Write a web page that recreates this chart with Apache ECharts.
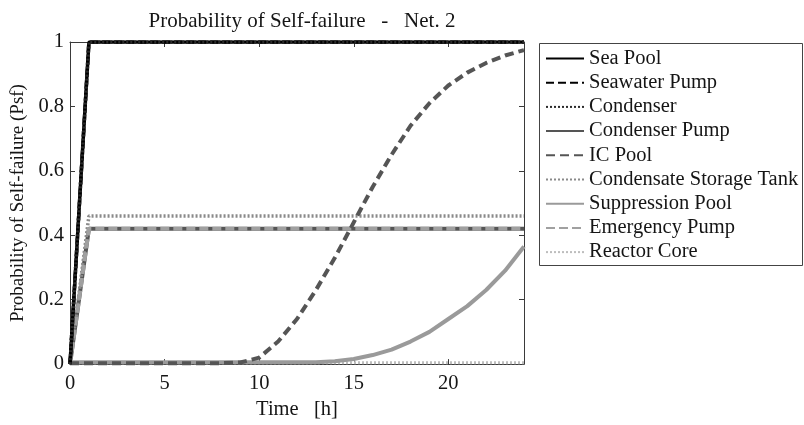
<!DOCTYPE html>
<html>
<head>
<meta charset="utf-8">
<script src="https://cdn.jsdelivr.net/npm/echarts@6/dist/echarts.min.js"></script>
<style>
  html, body { margin: 0; padding: 0; background: #fff; }
  #chart { width: 804px; height: 425px; }
</style>
</head>
<body>
<div id="chart"></div>
<script>
// Hourly time samples [h]
const hours = [0,1,2,3,4,5,6,7,8,9,10,11,12,13,14,15,16,17,18,19,20,21,22,23,24];

// Probability of self-failure per component
const seaPool        = [0,1,1,1,1,1,1,1,1,1,1,1,1,1,1,1,1,1,1,1,1,1,1,1,1];
const seawaterPump   = [0,1,1,1,1,1,1,1,1,1,1,1,1,1,1,1,1,1,1,1,1,1,1,1,1];
const condenser      = [0,1,1,1,1,1,1,1,1,1,1,1,1,1,1,1,1,1,1,1,1,1,1,1,1];
const condenserPump  = [0,0.42,0.42,0.42,0.42,0.42,0.42,0.42,0.42,0.42,0.42,0.42,0.42,0.42,0.42,0.42,0.42,0.42,0.42,0.42,0.42,0.42,0.42,0.42,0.42];
const icPool         = [0.003,0.003,0.003,0.003,0.003,0.003,0.003,0.003,0.003,0.005,0.02,0.07,0.14,0.23,0.33,0.44,0.55,0.65,0.74,0.81,0.865,0.905,0.935,0.958,0.975];
const storageTank    = [0,0.46,0.46,0.46,0.46,0.46,0.46,0.46,0.46,0.46,0.46,0.46,0.46,0.46,0.46,0.46,0.46,0.46,0.46,0.46,0.46,0.46,0.46,0.46,0.46];
const suppression    = [0.006,0.006,0.006,0.006,0.006,0.006,0.006,0.006,0.006,0.006,0.006,0.006,0.006,0.006,0.009,0.016,0.028,0.045,0.07,0.1,0.14,0.18,0.23,0.29,0.365];
const emergencyPump  = [0,0.42,0.42,0.42,0.42,0.42,0.42,0.42,0.42,0.42,0.42,0.42,0.42,0.42,0.42,0.42,0.42,0.42,0.42,0.42,0.42,0.42,0.42,0.42,0.42];
const reactorCore    = [0.004,0.004,0.004,0.004,0.004,0.004,0.004,0.004,0.004,0.004,0.004,0.004,0.004,0.004,0.004,0.004,0.004,0.004,0.004,0.004,0.004,0.004,0.004,0.004,0.004];

const xTicks = [0, 5, 10, 15, 20];
const yTicks = [0, 0.2, 0.4, 0.6, 0.8, 1];

const FONT = '"Liberation Serif", "DejaVu Serif", serif';
const AXIS_COLOR = '#3a3a3a';
const TEXT_COLOR = '#151515';

function pairs(vals) { return hours.map((h, i) => [h, vals[i]]); }

function line(name, vals, color, type, width, z) {
  return {
    name, type: 'line', data: pairs(vals), showSymbol: false, symbol: 'none',
    z: z, animation: false,
    lineStyle: { color, type, width, cap: 'butt' },
    itemStyle: { color }
  };
}

const series = [
  line('Sea Pool',                 seaPool,       '#000000', 'solid',  3.5, 10),
  line('Seawater Pump',            seawaterPump,  '#000000', [8, 4],   3.5, 11),
  line('Condenser',                condenser,     '#2a2a2a', [2, 2],   3.5, 12),
  line('Condenser Pump',           condenserPump, '#555555', 'solid',  4,   5),
  line('IC Pool',                  icPool,        '#555555', [9, 5],   4,   8),
  line('Condensate Storage Tank',  storageTank,   '#8a8a8a', [2, 2],   3.5, 6),
  line('Suppression Pool',         suppression,   '#9a9a9a', 'solid',  4,   7),
  line('Emergency Pump',           emergencyPump, '#a0a0a0', [9, 4],   4,   6),
  line('Reactor Core',             reactorCore,   '#bdbdbd', [2, 2],   3,   4)
];

const chart = echarts.init(document.getElementById('chart'), null, { renderer: 'canvas' });

const tickStyle = { show: true, inside: true, length: 5, lineStyle: { color: AXIS_COLOR, width: 1 } };

chart.setOption({
  backgroundColor: '#ffffff',
  animation: false,
  title: {
    text: 'Probability of Self-failure   -   Net. 2',
    left: 297, top: 6, textAlign: 'center',
    textStyle: { fontFamily: FONT, fontSize: 21, fontWeight: 'normal', color: TEXT_COLOR }
  },
  grid: { left: 70, right: 280, top: 42, bottom: 55, containLabel: false },
  legend: {
    orient: 'vertical', left: 545, top: 48, padding: 0,
    itemWidth: 38, itemHeight: 14, itemGap: 3.2,
    itemStyle: { opacity: 0 },
    textStyle: { fontFamily: FONT, fontSize: 20.5, color: TEXT_COLOR, lineHeight: 20 },
    data: series.map(s => s.name)
  },
  graphic: [{
    type: 'rect', left: 537, top: 41, z: 100,
    shape: { width: 263, height: 222 },
    style: { fill: 'none', stroke: '#444', lineWidth: 1 }
  }],
  xAxis: [{
    type: 'value', min: 0, max: 24, interval: 5,
    name: 'Time   [h]', nameLocation: 'middle', nameGap: 26,
    nameTextStyle: { fontFamily: FONT, fontSize: 20.5, color: TEXT_COLOR },
    axisLine: { show: true, onZero: false, lineStyle: { color: AXIS_COLOR, width: 1 } },
    axisTick: tickStyle,
    axisLabel: { fontFamily: FONT, fontSize: 20.5, color: TEXT_COLOR, margin: 9,
      formatter: v => xTicks.includes(v) ? String(v) : '' },
    splitLine: { show: false }
  }, {
    type: 'value', min: 0, max: 24, interval: 5, position: 'top',
    axisLine: { show: true, onZero: false, lineStyle: { color: AXIS_COLOR, width: 1 } },
    axisTick: tickStyle, axisLabel: { show: false }, splitLine: { show: false }
  }],
  yAxis: [{
    type: 'value', min: 0, max: 1, interval: 0.2,
    name: 'Probability of Self-failure (Psf)', nameLocation: 'middle', nameGap: 33,
    nameTextStyle: { fontFamily: FONT, fontSize: 19, color: TEXT_COLOR },
    axisLine: { show: true, onZero: false, lineStyle: { color: AXIS_COLOR, width: 1 } },
    axisTick: tickStyle,
    axisLabel: { fontFamily: FONT, fontSize: 20.5, color: TEXT_COLOR, margin: 6,
      formatter: v => { const t = yTicks.find(y => Math.abs(y - v) < 1e-9); return t === undefined ? '' : String(t); } },
    splitLine: { show: false }
  }, {
    type: 'value', min: 0, max: 1, interval: 0.2, position: 'right',
    axisLine: { show: true, onZero: false, lineStyle: { color: AXIS_COLOR, width: 1 } },
    axisTick: tickStyle, axisLabel: { show: false }, splitLine: { show: false }
  }],
  series: series.map(s => Object.assign(s, { xAxisIndex: 0, yAxisIndex: 0, clip: true }))
});
</script>
</body>
</html>
